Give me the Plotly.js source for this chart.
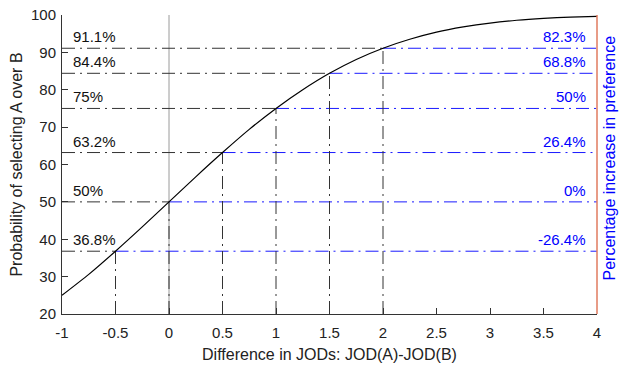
<!DOCTYPE html>
<html>
<head>
<meta charset="utf-8">
<script src="https://cdn.plot.ly/plotly-3.0.1.min.js"></script>
<style>html,body{margin:0;padding:0;background:#fff;}#chart{width:621px;height:368px;}</style>
</head>
<body>
<div id="chart"></div>
<script>
// Curve: probability of selecting A over B vs JOD difference
const curveJod  = [-1, -0.75, -0.5, -0.25, 0, 0.25, 0.5, 0.75, 1, 1.25, 1.5, 1.75, 2, 2.25, 2.5, 2.75, 3, 3.25, 3.5, 3.75, 4];
const curveProb = [25.0, 30.6, 36.8, 43.3, 50.0, 56.7, 63.2, 69.4, 75.0, 80.0, 84.4, 88.1, 91.1, 93.5, 95.4, 96.8, 97.85, 98.6, 99.1, 99.43, 99.65];

// Reference points
const markJod   = [-0.5, 0, 0.5, 1, 1.5, 2];
const markProb  = [36.8, 50, 63.2, 75, 84.4, 91.1];
const leftLabels  = ["36.8%", "50%", "63.2%", "75%", "84.4%", "91.1%"];
const rightLabels = ["-26.4%", "0%", "26.4%", "50%", "68.8%", "82.3%"];

const xTicks = [-1, -0.5, 0, 0.5, 1, 1.5, 2, 2.5, 3, 3.5, 4];
const xTickText = ["-1", "-0.5", "0", "0.5", "1", "1.5", "2", "2.5", "3", "3.5", "4"];
const yTicks = [20, 30, 40, 50, 60, 70, 80, 90, 100];

const X_MIN = -1, X_MAX = 4, Y_MIN = 20, Y_MAX = 100;
const DASH = "13px,5px,2px,5px";
const FONT = "Liberation Sans, Arial, Helvetica, sans-serif";

const traces = [];
// gray zero line
traces.push({x:[0,0], y:[Y_MIN, Y_MAX], mode:'lines', line:{color:'#9a9a9a', width:1}, hoverinfo:'skip', showlegend:false});

markJod.forEach((j, i) => {
  const p = markProb[i];
  traces.push({x:[X_MIN, j], y:[p, p], mode:'lines', line:{color:'#333', width:1, dash:DASH}, hoverinfo:'skip', showlegend:false});
  traces.push({x:[j, X_MAX], y:[p, p], mode:'lines', line:{color:'#1a1aff', width:1, dash:DASH}, hoverinfo:'skip', showlegend:false});
  traces.push({x:[j, j], y:[Y_MIN, p], mode:'lines', line:{color:'#333', width:1, dash:DASH}, hoverinfo:'skip', showlegend:false});
});

traces.push({x:curveJod, y:curveProb, mode:'lines', line:{color:'#000', width:1.2, shape:'spline', smoothing:0.6}, hoverinfo:'skip', showlegend:false});

const annotations = [];
markProb.forEach((p, i) => {
  annotations.push({x:X_MIN, y:p, xref:'x', yref:'y', text:leftLabels[i], showarrow:false,
    xanchor:'left', yanchor:'bottom', xshift:9, yshift:1, font:{family:FONT, size:15, color:'#111'}});
  annotations.push({x:X_MAX, y:p, xref:'x', yref:'y', text:rightLabels[i], showarrow:false,
    xanchor:'right', yanchor:'bottom', xshift:-9, yshift:1, font:{family:FONT, size:15, color:'#0000ff'}});
});
annotations.push({x:1, y:0.52, xref:'paper', yref:'paper', text:'Percentage increase in preference', showarrow:false,
  textangle:-90, xanchor:'center', yanchor:'middle', xshift:13, font:{family:FONT, size:16, color:'#0000ff'}});

const layout = {
  width:621, height:368,
  margin:{l:62, r:24, t:15, b:54},
  paper_bgcolor:'#fff', plot_bgcolor:'#fff',
  font:{family:FONT, size:15, color:'#222'},
  showlegend:false,
  xaxis:{range:[X_MIN, X_MAX], tickvals:xTicks, ticktext:xTickText, ticks:'inside', ticklen:6, tickcolor:'#333',
    showline:true, linecolor:'#333', linewidth:1, showgrid:false, zeroline:false, ticklabelstandoff:5,
    tickfont:{family:FONT, size:15, color:'#222'},
    title:{text:'Difference in JODs: JOD(A)-JOD(B)', font:{family:FONT, size:16, color:'#222'}, standoff:8}},
  yaxis:{range:[Y_MIN, Y_MAX], tickvals:yTicks, ticks:'inside', ticklen:6, tickcolor:'#333',
    showline:true, linecolor:'#333', linewidth:1, showgrid:false, zeroline:false, ticklabelstandoff:2,
    tickfont:{family:FONT, size:15, color:'#222'},
    title:{text:'Probability of selecting A over B', font:{family:FONT, size:16, color:'#222'}, standoff:4}},
  shapes:[{type:'line', xref:'paper', yref:'paper', x0:1, x1:1, y0:0, y1:1, line:{color:'#e07b5f', width:1.5}}],
  annotations:annotations
};

Plotly.newPlot('chart', traces, layout, {staticPlot:true, displayModeBar:false});
</script>
</body>
</html>
